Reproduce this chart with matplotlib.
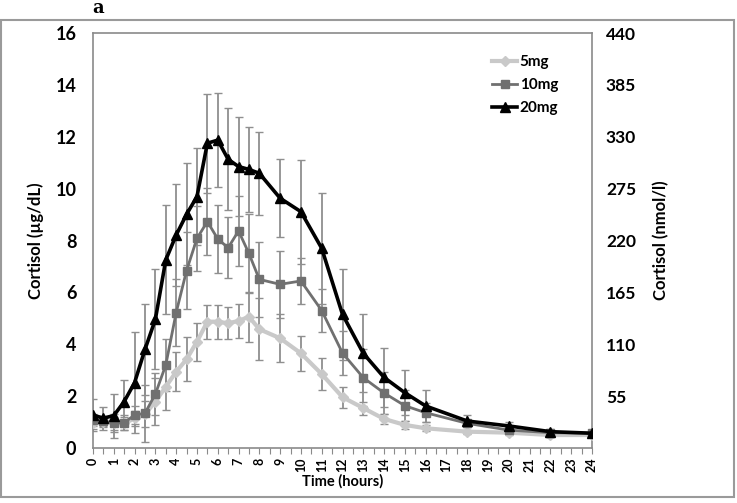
import matplotlib
matplotlib.use("Agg")
from matplotlib import pyplot as plt
from matplotlib.patches import Rectangle
import numpy as np

# sampling times (hours)
time_h = [0, 0.5, 1, 1.5, 2, 2.5, 3, 3.5, 4, 4.5, 5, 5.5, 6, 6.5, 7, 7.5, 8,
          9, 10, 11, 12, 13, 14, 15, 16, 18, 20, 22, 24]

# cortisol, ug/dL
mg5 = [0.95, 1.0, 0.95, 0.95, 1.14, 1.3, 1.79, 2.36, 2.94, 3.42, 4.1, 4.87, 4.87,
       4.81, 4.9, 5.06, 4.58, 4.23, 3.65, 2.85, 1.96, 1.54, 1.12, 0.89, 0.76,
       0.63, 0.59, 0.5, 0.5]
mg5_err = [0.2, 0.2, 0.25, 0.25, 0.3, 0.5, 0.9, 0.9, 0.75, 0.85, 0.73, 0.66, 0.66,
           0.62, 0.64, 0.96, 1.2, 0.92, 0.67, 0.61, 0.4, 0.25, 0.2, 0.15, 0.12,
           0.08, 0.08, 0.06, 0.06]

mg10 = [1.08, 1.05, 0.95, 0.98, 1.27, 1.34, 2.08, 3.2, 5.22, 6.84, 8.08, 8.73, 8.06,
        7.72, 8.37, 7.5, 6.5, 6.31, 6.44, 5.3, 3.66, 2.71, 2.12, 1.63, 1.36,
        0.95, 0.69, 0.59, 0.57]
mg10_err = [0.25, 0.2, 0.35, 0.3, 0.35, 1.1, 0.8, 1.0, 1.3, 1.5, 1.25, 1.3, 1.3,
            1.17, 1.35, 1.54, 1.45, 1.3, 0.87, 0.84, 0.85, 1.1, 0.8, 0.6, 0.36,
            0.12, 0.1, 0.08, 0.06]

mg20 = [1.27, 1.15, 1.25, 1.79, 2.52, 3.8, 4.96, 7.25, 8.21, 9.01, 9.69, 11.75, 11.87,
        11.13, 10.85, 10.74, 10.59, 9.63, 9.11, 7.7, 5.15, 3.65, 2.72, 2.13, 1.62,
        1.04, 0.85, 0.63, 0.57]
mg20_err = [0.6, 0.45, 0.85, 0.83, 1.95, 1.75, 1.93, 2.1, 1.97, 1.96, 1.86, 1.9, 1.8,
            1.96, 1.9, 1.65, 1.6, 1.5, 2.0, 2.14, 1.75, 1.5, 1.12, 0.87, 0.62,
            0.23, 0.16, 0.1, 0.08]

left_ticks = [0, 2, 4, 6, 8, 10, 12, 14, 16]
right_ticks = [55, 110, 165, 220, 275, 330, 385, 440]
x_ticks = list(range(0, 25))

fnt = "Lato"

fig = plt.figure(figsize=(7.37, 5.03), dpi=100)
ax = fig.add_axes([93 / 737, 55 / 503, 499 / 737, 415 / 503])

err_kw = dict(fmt="none", ecolor="#8f8f8f", elinewidth=1.3, capsize=3, capthick=1.0, zorder=1)
ax.errorbar(time_h, mg5, yerr=mg5_err, **err_kw)
ax.errorbar(time_h, mg10, yerr=mg10_err, **err_kw)
ax.errorbar(time_h, mg20, yerr=mg20_err, **err_kw)

ax.plot(time_h, mg5, color="#c9c9c9", lw=3, marker="D", ms=5, label="5mg", zorder=3)
ax.plot(time_h, mg10, color="#707070", lw=2, marker="s", ms=6, label="10mg", zorder=4)
ax.plot(time_h, mg20, color="black", lw=2.6, marker="^", ms=7, label="20mg", zorder=5)

ax.set_xlim(0, 24)
ax.set_ylim(0, 16)
ax.set_yticks(left_ticks)
ax.set_yticklabels([str(v) for v in left_ticks], fontsize=13, fontweight="bold", family=fnt)
ax.tick_params(axis="y", length=0, pad=12)
ax.set_xticks(x_ticks)
ax.set_xticks(np.arange(0.5, 24, 1), minor=True)
ax.set_xticklabels([str(v) for v in x_ticks], rotation=90, fontsize=9,
                   fontweight="bold", family=fnt)
ax.tick_params(axis="x", which="both", direction="out", length=4, width=0.8,
               color="#8a8a8a", pad=3)
for s in ax.spines.values():
    s.set_color("#8a8a8a")
    s.set_linewidth(1.2)

ax.set_xlabel("Time (hours)", fontsize=10.5, fontweight="bold", family=fnt, labelpad=1)
ax.set_ylabel("Cortisol (µg/dL)", fontsize=12, fontweight="bold", family=fnt, labelpad=8)

ax2 = ax.twinx()
ax2.set_ylim(0, 440)
ax2.set_yticks(right_ticks)
ax2.set_yticklabels([str(v) for v in right_ticks], fontsize=12.5, fontweight="bold", family=fnt)
ax2.tick_params(axis="y", length=0, pad=10)
for s in ax2.spines.values():
    s.set_visible(False)
ax2.set_ylabel("Cortisol (nmol/l)", fontsize=12, fontweight="bold", family=fnt, labelpad=12)

leg = ax.legend(loc="upper right", bbox_to_anchor=(0.96, 0.98), frameon=False,
                handlelength=1.6, handletextpad=0.2, labelspacing=0.6,
                prop={"family": fnt, "weight": "bold", "size": 11})

fig.text(98 / 737, 1 - 8 / 503, "a", fontsize=13, fontweight="bold", family="serif",
         ha="center", va="center")

fig.patches.append(Rectangle((0.5 / 737, 6 / 503), 733 / 737, 477 / 503,
                             transform=fig.transFigure, fill=False,
                             edgecolor="#9a9a9a", lw=1.5))

fig.savefig("out.png", dpi=100)
